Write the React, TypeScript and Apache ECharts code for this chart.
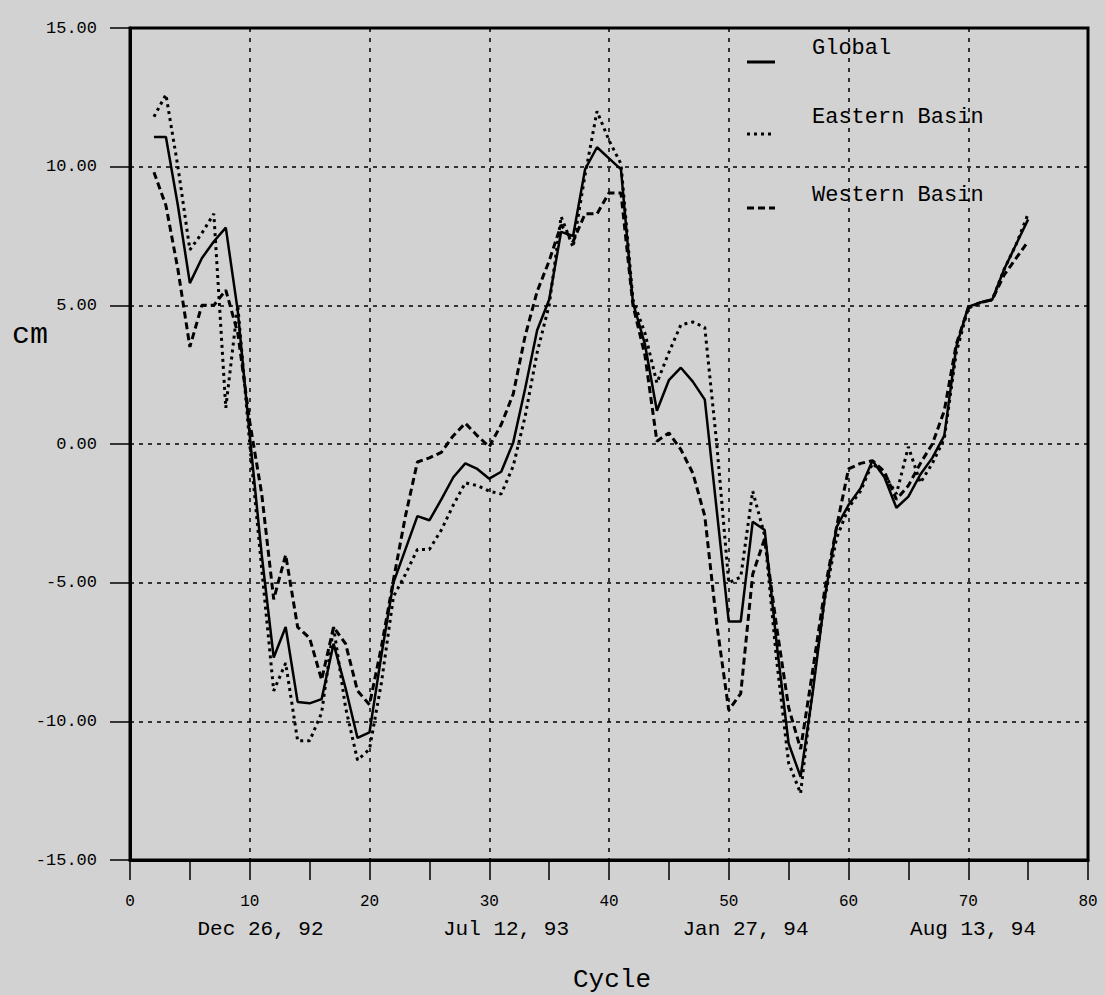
import React, { useEffect, useRef } from "react";
import * as echarts from "echarts";

const cycles = [2,3,4,5,6,7,8,9,10,11,12,13,14,15,16,17,18,19,20,21,22,23,24,25,26,27,28,29,30,31,32,33,34,35,36,37,38,39,40,41,42,43,44,45,46,47,48,49,50,51,52,53,54,55,56,57,58,59,60,61,62,63,64,65,66,67,68,69,70,71,72,73,74,75];

const globalVals = [11.07,11.07,8.6,5.8,6.7,7.3,7.8,4.8,0.3,-4.0,-7.7,-6.6,-9.3,-9.35,-9.2,-7.2,-8.8,-10.6,-10.4,-7.6,-5.0,-3.8,-2.6,-2.75,-2.0,-1.2,-0.7,-0.9,-1.25,-1.0,0.05,2.0,4.1,5.2,7.65,7.5,9.9,10.7,10.3,9.9,5.1,3.6,1.2,2.3,2.75,2.25,1.6,-2.4,-6.4,-6.4,-2.8,-3.1,-7.2,-10.8,-12.0,-9.0,-5.6,-3.0,-2.2,-1.6,-0.6,-1.2,-2.3,-1.9,-1.1,-0.5,0.3,3.5,4.95,5.1,5.2,6.3,7.2,8.1];

const easternVals = [11.8,12.6,10.0,7.0,7.6,8.3,1.3,5.0,0.0,-4.5,-8.9,-7.9,-10.7,-10.7,-9.7,-6.6,-9.5,-11.4,-11.0,-8.6,-5.5,-4.7,-3.8,-3.8,-3.1,-2.2,-1.4,-1.5,-1.7,-1.8,-0.8,1.0,3.3,5.0,8.2,7.1,9.7,12.0,10.95,10.1,5.2,4.0,2.2,3.3,4.3,4.4,4.2,0.0,-5.0,-4.8,-1.7,-3.3,-7.8,-11.5,-12.6,-8.8,-5.6,-3.4,-2.3,-1.7,-0.7,-1.1,-1.8,-0.1,-1.4,-0.7,0.2,3.3,4.9,5.1,5.2,6.3,7.2,8.3];

const westernVals = [9.8,8.6,6.3,3.5,5.0,5.0,5.55,4.0,0.8,-1.8,-5.6,-4.0,-6.6,-7.0,-8.5,-6.6,-7.2,-8.9,-9.4,-7.3,-4.9,-2.6,-0.65,-0.5,-0.3,0.3,0.75,0.3,-0.1,0.7,1.8,3.9,5.5,6.6,7.9,7.3,8.3,8.3,9.05,9.05,5.0,3.2,0.1,0.4,-0.2,-1.05,-2.6,-6.5,-9.6,-9.0,-4.7,-3.4,-6.6,-9.5,-11.0,-8.2,-5.3,-3.0,-0.9,-0.7,-0.6,-1.0,-2.0,-1.5,-0.7,0.0,1.2,3.6,4.9,5.1,5.2,6.1,6.7,7.3];

const seriesNames = ["Global", "Eastern Basin", "Western Basin"];
const dateLabels = ["Dec 26, 92", "Jul 12, 93", "Jan 27, 94", "Aug 13, 94"];
const dateCycles = [10.9, 31.4, 51.4, 70.4];

const FONT = "'Liberation Mono', 'DejaVu Sans Mono', monospace";
const BG = "#d2d2d2";

export default function App() {
  const ref = useRef<HTMLDivElement>(null);
  useEffect(() => {
    if (!ref.current) return;
    const chart = echarts.init(ref.current, undefined, { renderer: "svg" });
    const toPairs = (vals: number[]) => cycles.map((c, i) => [c, vals[i]]);
    const lineStyles: any[] = [
      { color: "#000", width: 2.5, type: "solid" },
      { color: "#000", width: 3, type: [3, 4] },
      { color: "#000", width: 3, type: [7, 4] },
    ];
    chart.setOption({
      animation: false,
      backgroundColor: BG,
      grid: {
        left: 130, right: 17, top: 28, bottom: 135,
        show: true, borderColor: "#000", borderWidth: 3, backgroundColor: "transparent",
      },
      xAxis: {
        type: "value", min: 0, max: 80, interval: 10,
        axisLine: { show: true, onZero: false, lineStyle: { color: "#000", width: 3 } },
        axisTick: { show: true, length: 20, lineStyle: { color: "#000", width: 1.5 } },
        minorTick: { show: true, splitNumber: 2, length: 20, lineStyle: { color: "#000", width: 1.5 } },
        axisLabel: { color: "#000", fontFamily: FONT, fontSize: 16, margin: 34 },
        splitLine: { show: true, lineStyle: { color: "#000", width: 1.5, type: [4, 6] } },
      },
      yAxis: {
        type: "value", min: -15, max: 15, interval: 5,
        axisLine: { show: true, onZero: false, lineStyle: { color: "#000", width: 3 } },
        axisTick: { show: true, length: 20, lineStyle: { color: "#000", width: 1.5 } },
        axisLabel: { color: "#000", fontFamily: FONT, fontSize: 17, margin: 33, formatter: (v: number) => v.toFixed(2) },
        splitLine: { show: true, lineStyle: { color: "#000", width: 1.5, type: [4, 5] } },
      },
      series: [globalVals, easternVals, westernVals].map((vals, i) => ({
        name: seriesNames[i],
        type: "line",
        data: toPairs(vals),
        showSymbol: false,
        symbol: "none",
        lineStyle: lineStyles[i],
        z: 3,
      })),
    });
    const px = (c: number) => chart.convertToPixel({ xAxisIndex: 0 }, c) as number;
    const legendY = [62, 134, 208];
    const legendTextY = [48, 117, 195];
    const graphics: any[] = [];
    seriesNames.forEach((name, i) => {
      graphics.push({
        type: "line",
        shape: { x1: 747, y1: legendY[i], x2: 775, y2: legendY[i] },
        style: { stroke: "#000", lineWidth: 3, lineDash: i === 0 ? null : lineStyles[i].type },
        z: 10,
      });
      graphics.push({
        type: "text", x: 812, y: legendTextY[i],
        style: { text: name, fill: "#000", font: `22px ${FONT}`, textVerticalAlign: "middle" },
        z: 10,
      });
    });
    dateLabels.forEach((d, i) => {
      graphics.push({
        type: "text", x: px(dateCycles[i]), y: 929,
        style: { text: d, fill: "#000", font: `21px ${FONT}`, textAlign: "center", textVerticalAlign: "middle" },
      });
    });
    graphics.push({
      type: "text", x: 612, y: 980,
      style: { text: "Cycle", fill: "#000", font: `26px ${FONT}`, textAlign: "center", textVerticalAlign: "middle" },
    });
    graphics.push({
      type: "text", x: 12, y: 335,
      style: { text: "cm", fill: "#000", font: `30px ${FONT}`, textAlign: "left", textVerticalAlign: "middle" },
    });
    chart.setOption({ graphic: graphics });
    return () => chart.dispose();
  }, []);
  return (
    <div
      ref={ref}
      style={{ position: "fixed", left: 0, top: 0, width: 1105, height: 995 }}
    />
  );
}
